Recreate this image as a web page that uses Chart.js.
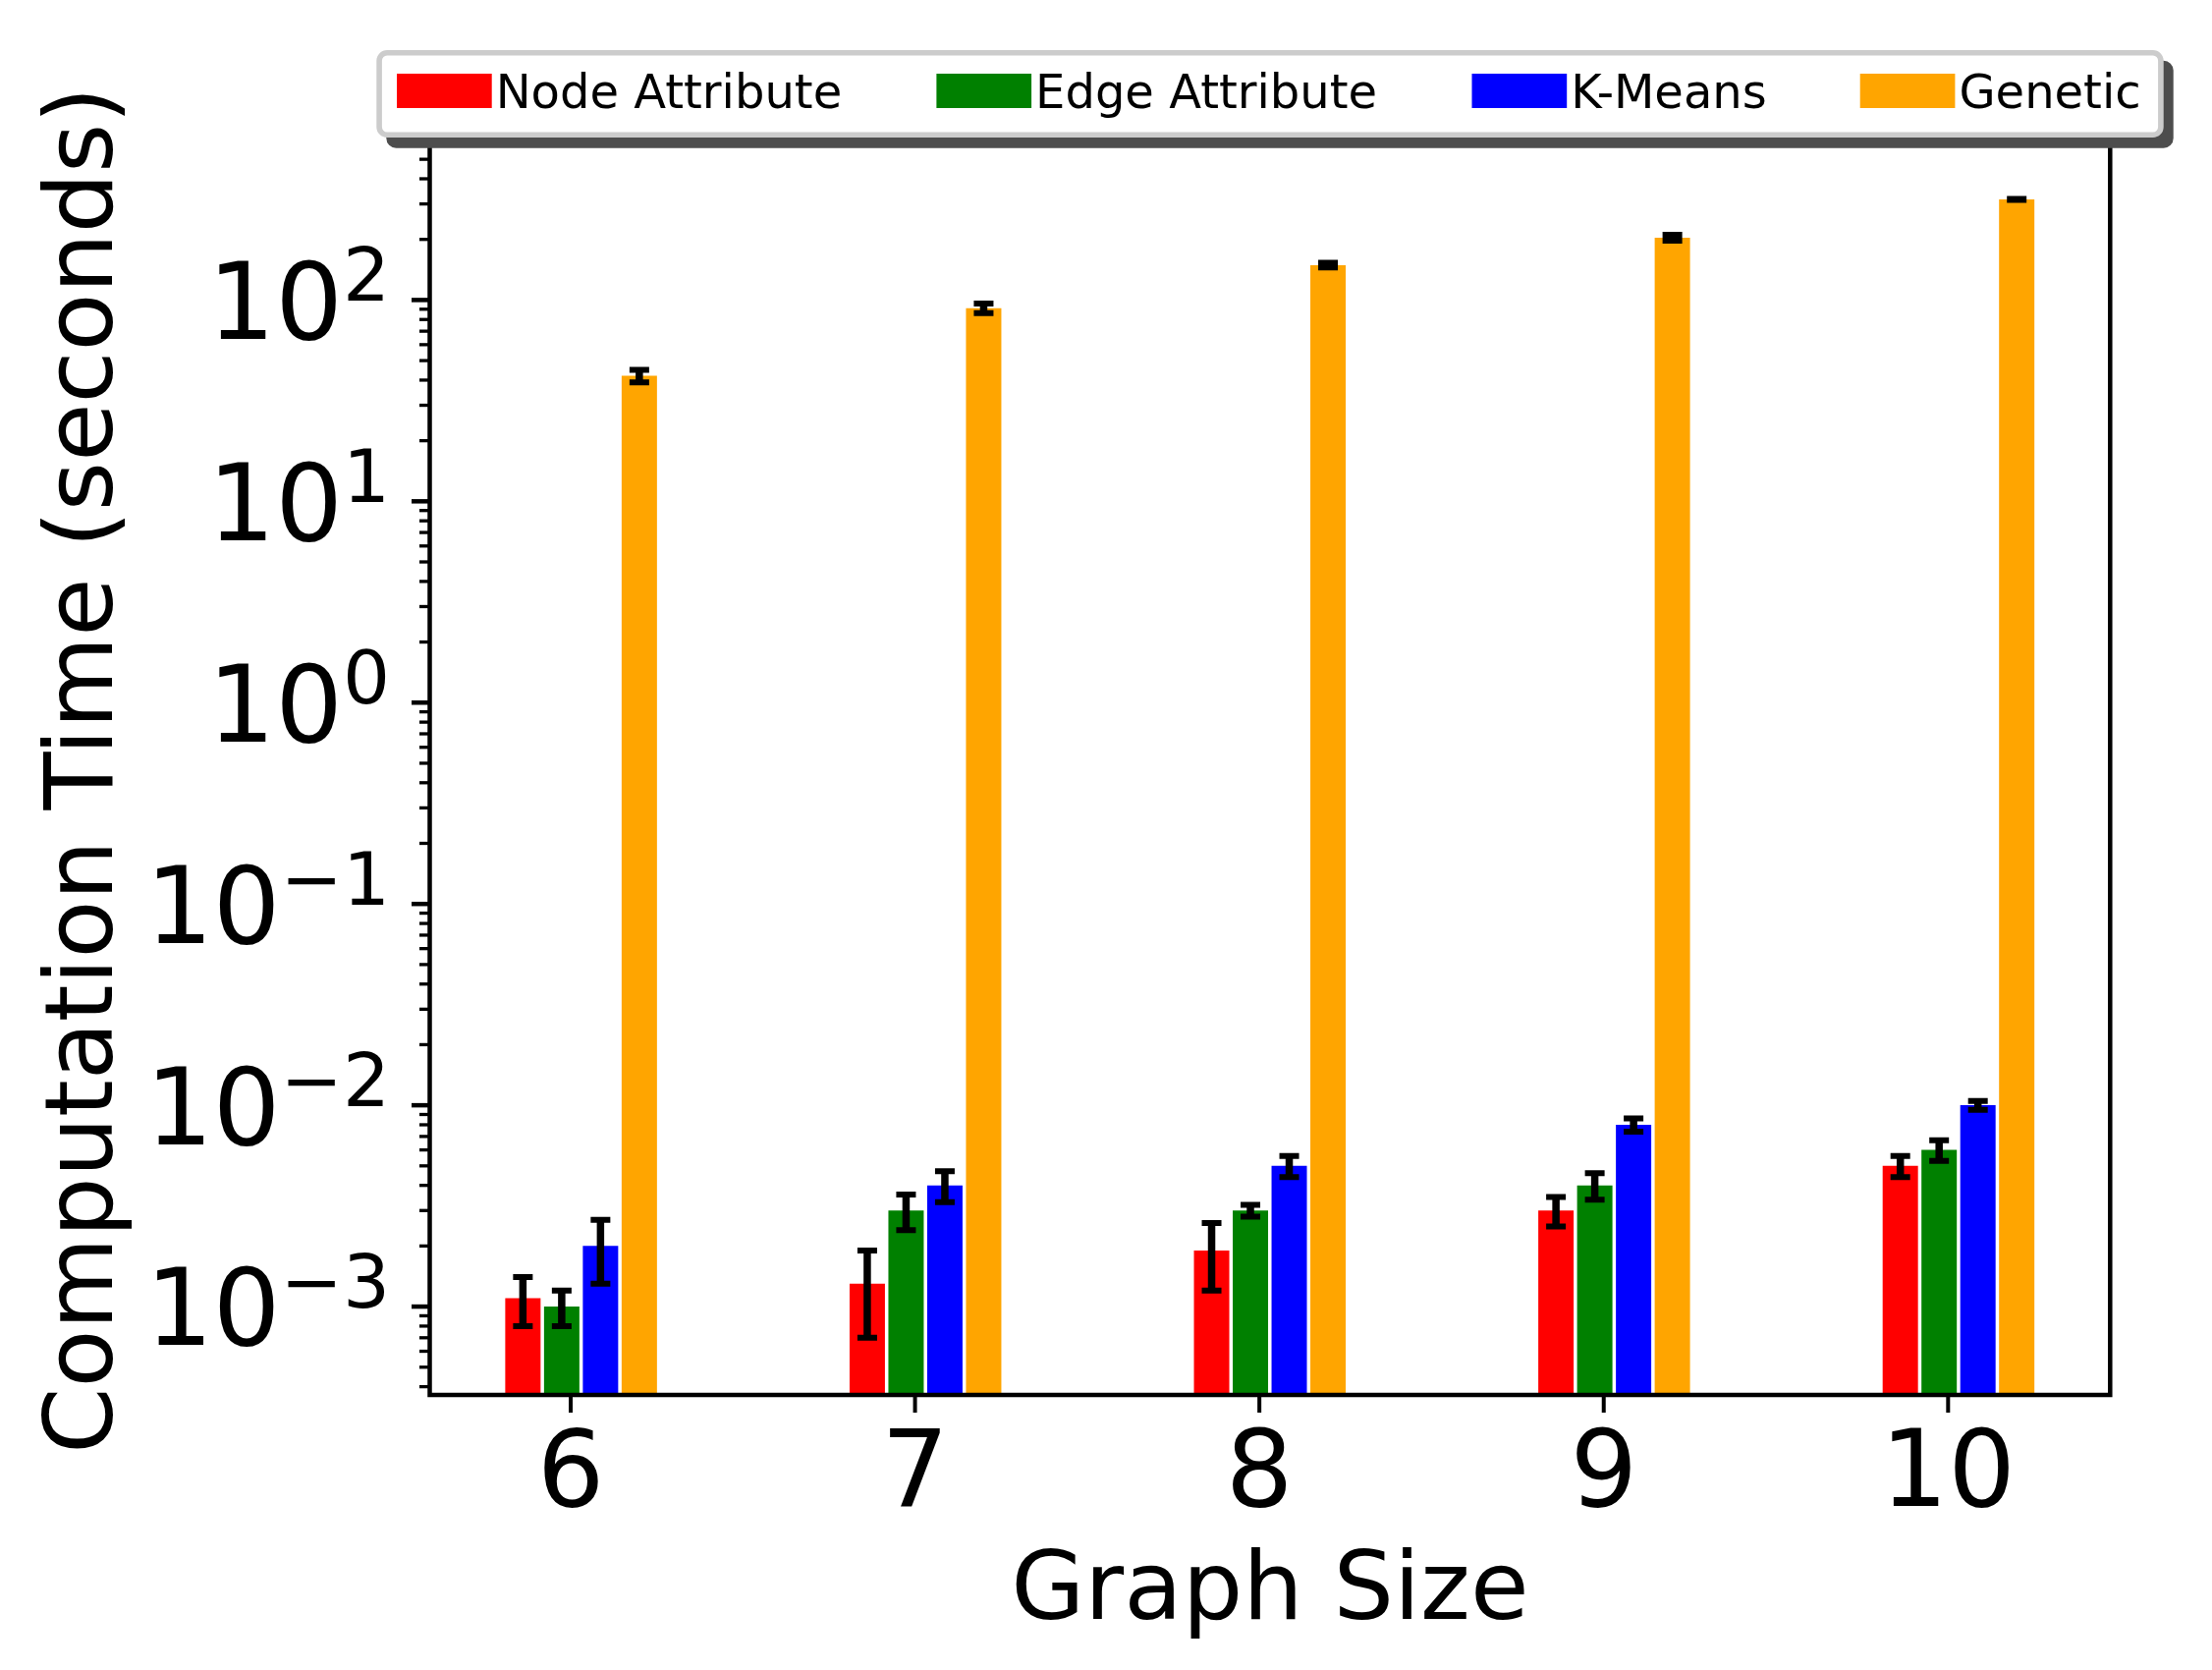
<!DOCTYPE html>
<html>
<head>
<meta charset="utf-8">
<script src="https://cdn.jsdelivr.net/npm/chart.js@4.4.0/dist/chart.umd.min.js"></script>
<style>
html,body{margin:0;padding:0;background:#ffffff;overflow:hidden}
canvas{display:block}
</style>
</head>
<body>
<canvas id="c" width="2252" height="1700" style="width:2252px;height:1700px"></canvas>
<script>
// ---------- data ----------
const categories = [6, 7, 8, 9, 10];
const xTickLabels = ['6', '7', '8', '9', '10'];
const seriesNames = ['Node Attribute', 'Edge Attribute', 'K-Means', 'Genetic'];
const seriesColors = ['#ff0000', '#008000', '#0000ff', '#ffa500'];

const nodeAttribute    = [1.1e-3, 1.3e-3, 1.9e-3, 3.0e-3, 5.0e-3];
const nodeAttributeErr = [0.3e-3, 0.6e-3, 0.7e-3, 0.5e-3, 0.6e-3];
const edgeAttribute    = [1.0e-3, 3.0e-3, 3.0e-3, 4.0e-3, 6.0e-3];
const edgeAttributeErr = [0.2e-3, 0.6e-3, 0.2e-3, 0.6e-3, 0.7e-3];
const kMeans           = [2.0e-3, 4.0e-3, 5.0e-3, 8.0e-3, 1.0e-2];
const kMeansErr        = [0.7e-3, 0.7e-3, 0.6e-3, 0.6e-3, 0.5e-3];
const genetic          = [42, 91, 149, 204, 316];
const geneticErr       = [3, 5, 4, 7, 2];

const yMajorTicks = [1e-3, 1e-2, 1e-1, 1, 10, 100];
const yTickExponents = ['\u22123', '\u22122', '\u22121', '0', '1', '2'];
const xAxisTitle = 'Graph Size';
const yAxisTitle = 'Computation Time (seconds)';

const seriesValues = [nodeAttribute, edgeAttribute, kMeans, genetic];
const seriesErrors = [nodeAttributeErr, edgeAttributeErr, kMeansErr, geneticErr];

// ---------- chart ----------
const FONT = '"DejaVu Sans", "DejaVu Sans Book", sans-serif';
const X_MIN = 5.5907, X_MAX = 10.4706, BAR_SHIFT = 0.0303;

function roundRectPath(ctx, x, y, w, h, r) {
  ctx.beginPath();
  ctx.moveTo(x + r, y);
  ctx.lineTo(x + w - r, y);
  ctx.arcTo(x + w, y, x + w, y + r, r);
  ctx.lineTo(x + w, y + h - r);
  ctx.arcTo(x + w, y + h, x + w - r, y + h, r);
  ctx.lineTo(x + r, y + h);
  ctx.arcTo(x, y + h, x, y + h - r, r);
  ctx.lineTo(x, y + r);
  ctx.arcTo(x, y, x + r, y, r);
  ctx.closePath();
}

const decorations = {
  id: 'decorations',
  afterDatasetsDraw(chart) {
    const ctx = chart.ctx;
    const ys = chart.scales.y;
    ctx.save();
    ctx.strokeStyle = '#000';
    ctx.lineCap = 'butt';
    chart.data.datasets.forEach((ds, di) => {
      const meta = chart.getDatasetMeta(di);
      meta.data.forEach((bar, i) => {
        const v = ds.data[i].y, e = ds.errors[i];
        const yt = ys.getPixelForValue(v + e);
        const yb = ys.getPixelForValue(v - e);
        ctx.lineWidth = 7.5;
        ctx.beginPath();
        ctx.moveTo(bar.x, yt); ctx.lineTo(bar.x, yb);
        ctx.stroke();
        ctx.lineWidth = 6;
        ctx.beginPath();
        ctx.moveTo(bar.x - 10, yt); ctx.lineTo(bar.x + 10, yt);
        ctx.moveTo(bar.x - 10, yb); ctx.lineTo(bar.x + 10, yb);
        ctx.stroke();
      });
    });
    ctx.restore();
  },
  afterDraw(chart) {
    const ctx = chart.ctx;
    const ca = chart.chartArea;
    const xs = chart.scales.x, ys = chart.scales.y;
    ctx.save();
    ctx.fillStyle = '#000';
    ctx.strokeStyle = '#000';

    // spines
    ctx.lineWidth = 4.5;
    ctx.strokeRect(ca.left, ca.top, ca.right - ca.left, ca.bottom - ca.top);

    // x ticks + labels
    ctx.font = '108px ' + FONT;
    ctx.textAlign = 'center';
    ctx.textBaseline = 'alphabetic';
    categories.forEach((c, i) => {
      const px = xs.getPixelForValue(c);
      ctx.lineWidth = 4;
      ctx.beginPath(); ctx.moveTo(px, ca.bottom); ctx.lineTo(px, ca.bottom + 18); ctx.stroke();
      ctx.fillText(xTickLabels[i], px, ca.bottom + 113);
    });

    // y minor ticks
    ctx.lineWidth = 3.3;
    for (let d = -5; d <= 3; d++) {
      for (let m = 2; m <= 9; m++) {
        const v = m * Math.pow(10, d);
        if (v < ys.min || v > ys.max) continue;
        const py = ys.getPixelForValue(v);
        ctx.beginPath(); ctx.moveTo(ca.left - 10.5, py); ctx.lineTo(ca.left, py); ctx.stroke();
      }
    }
    // y major ticks + labels
    const rightX = 397;
    yMajorTicks.forEach((v, i) => {
      const py = ys.getPixelForValue(v);
      ctx.lineWidth = 4.5;
      ctx.beginPath(); ctx.moveTo(ca.left - 18.5, py); ctx.lineTo(ca.left, py); ctx.stroke();
      ctx.textAlign = 'left';
      ctx.font = '108px ' + FONT;
      const wMain = ctx.measureText('10').width;
      ctx.font = '75.6px ' + FONT;
      const wSup = ctx.measureText(yTickExponents[i]).width;
      const sx = rightX - wSup - wMain;
      ctx.font = '108px ' + FONT;
      ctx.fillText('10', sx, py + 39.4);
      ctx.font = '75.6px ' + FONT;
      ctx.fillText(yTickExponents[i], sx + wMain, py + 0.5);
    });

    // axis titles
    ctx.font = '97px ' + FONT;
    ctx.textAlign = 'center';
    ctx.fillText(xAxisTitle, (ca.left + ca.right) / 2, 1648);
    ctx.save();
    ctx.translate(114, 784);
    ctx.rotate(-Math.PI / 2);
    ctx.font = '96.5px ' + FONT;
    ctx.fillText(yAxisTitle, 0, 0);
    ctx.restore();

    // legend (shadow, frame, entries)
    ctx.fillStyle = '#4d4d4d';
    roundRectPath(ctx, 393.3, 61.7, 1819.4, 89, 10);
    ctx.fill();
    ctx.fillStyle = '#ffffff';
    ctx.strokeStyle = '#cccccc';
    ctx.lineWidth = 5.6;
    roundRectPath(ctx, 386.1, 53.8, 1813.8, 83.4, 8);
    ctx.fill();
    ctx.stroke();
    const patchX = [404, 953.4, 1498.5, 1893.7];
    ctx.font = '48px ' + FONT;
    ctx.textAlign = 'left';
    chart.data.datasets.forEach((ds, di) => {
      ctx.fillStyle = ds.backgroundColor;
      ctx.fillRect(patchX[di], 75, 96.7, 35);
      ctx.fillStyle = '#000';
      ctx.fillText(ds.label, patchX[di] + 100.7, 109.5);
    });
    ctx.restore();
  }
};

const datasets = seriesNames.map((name, si) => ({
  label: name,
  data: categories.map((c, i) => ({ x: c, y: seriesValues[si][i] })),
  errors: seriesErrors[si],
  backgroundColor: seriesColors[si],
  borderWidth: 0,
  xAxisID: 'xb',
  yAxisID: 'y',
  categoryPercentage: 0.4507,
  barPercentage: 0.911
}));

new Chart(document.getElementById('c'), {
  type: 'bar',
  data: { datasets },
  options: {
    responsive: false,
    maintainAspectRatio: false,
    animation: false,
    devicePixelRatio: 1,
    layout: { padding: { left: 437.5, top: 143, right: 103.7, bottom: 280 } },
    plugins: { legend: { display: false }, tooltip: { enabled: false }, title: { display: false } },
    scales: {
      xb: { type: 'linear', display: false, offset: false, bounds: 'data', min: X_MIN - BAR_SHIFT, max: X_MAX - BAR_SHIFT,
            ticks: { stepSize: 1, includeBounds: false }, grid: { display: false, offset: false } },
      x:  { type: 'linear', display: false, offset: false, bounds: 'data', min: X_MIN, max: X_MAX,
            ticks: { stepSize: 1, includeBounds: false }, grid: { display: false, offset: false } },
      y:  { type: 'logarithmic', display: false, bounds: 'data', min: 3.64e-4, max: 620, grid: { display: false } }
    }
  },
  plugins: [decorations]
});
</script>
</body>
</html>
